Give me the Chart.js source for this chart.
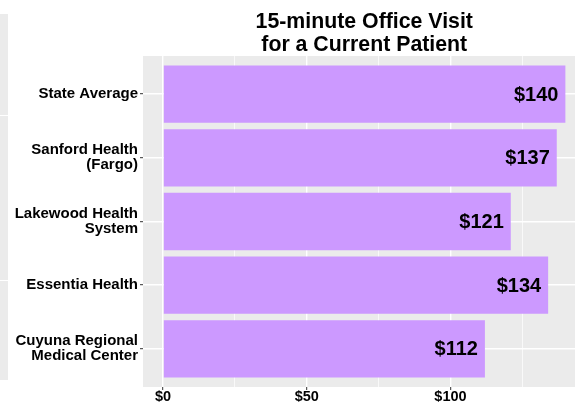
<!DOCTYPE html>
<html>
<head>
<meta charset="utf-8">
<script src="https://cdn.jsdelivr.net/npm/chart.js@4.4.1/dist/chart.umd.min.js"></script>
<style>
  html, body { margin: 0; padding: 0; background: #ffffff; overflow: hidden; }
  #wrap { position: relative; width: 575px; height: 402px; }
  #strip { position: absolute; left: 0; top: 14px; width: 8px; height: 366px; background: #ebebeb; }
  .sline { position: absolute; left: 0; width: 8px; height: 1px; background: #ffffff; }
  canvas { position: absolute; left: 0; top: 0; }
</style>
</head>
<body>
<div id="wrap">
  <div id="strip"><div class="sline" style="top:101px"></div><div class="sline" style="top:266px"></div></div>
  <canvas id="c" width="575" height="402"></canvas>
</div>
<script>
const titleLines = ['15-minute Office Visit', 'for a Current Patient'];
const categories = [
  ['State Average'],
  ['Sanford Health', '(Fargo)'],
  ['Lakewood Health', 'System'],
  ['Essentia Health'],
  ['Cuyuna Regional', 'Medical Center']
];
const values = [140, 137, 121, 134, 112];
const valueLabels = values.map(v => '$' + v);
const xTickValues = [0, 25, 50, 75, 100, 125];
const xTickLabels = { 0: '$0', 50: '$50', 100: '$100' };
const categoryPositions = [1, 2, 3, 4, 5];

const FONT = "'Liberation Sans', Arial, sans-serif";

const panelPlugin = {
  id: 'panel',
  beforeDraw(chart) {
    const { ctx, chartArea: a } = chart;
    ctx.save();
    ctx.fillStyle = '#ebebeb';
    ctx.fillRect(a.left, a.top, a.right - a.left, a.bottom - a.top);
    ctx.restore();
  },
  afterDatasetsDraw(chart) {
    const { ctx } = chart;
    const meta = chart.getDatasetMeta(0);
    ctx.save();
    ctx.fillStyle = '#000000';
    ctx.font = 'bold 20px ' + FONT;
    ctx.textAlign = 'right';
    ctx.textBaseline = 'middle';
    meta.data.forEach((bar, i) => {
      ctx.fillText(valueLabels[i], bar.x - 7, bar.y + 1);
    });
    ctx.restore();
  },
  afterDraw(chart) {
    const { ctx } = chart;
    const cx = chart.scales.x.getPixelForValue(70);
    ctx.save();
    ctx.fillStyle = '#000000';
    ctx.font = 'bold 21.3px ' + FONT;
    ctx.textAlign = 'center';
    ctx.textBaseline = 'alphabetic';
    ctx.fillText(titleLines[0], cx, 27.5);
    ctx.fillText(titleLines[1], cx, 51);
    ctx.restore();
  }
};

new Chart(document.getElementById('c'), {
  type: 'bar',
  data: {
    datasets: [{
      data: values.map((v, i) => ({ x: v, y: categoryPositions[i] })),
      backgroundColor: '#cc99ff',
      borderWidth: 0,
      categoryPercentage: 0.9,
      barPercentage: 1.0
    }]
  },
  options: {
    indexAxis: 'y',
    responsive: false,
    animation: false,
    devicePixelRatio: 1,
    layout: { padding: { top: 56, left: 0, right: 0, bottom: 0 } },
    plugins: { legend: { display: false }, tooltip: { enabled: false }, title: { display: false } },
    scales: {
      x: {
        type: 'linear',
        position: 'bottom',
        offset: false,
        min: -7,
        max: 143.35,
        afterBuildTicks(scale) { scale.ticks = xTickValues.map(v => ({ value: v })); },
        afterFit(scale) { scale.height = 15; scale.paddingLeft = 0; scale.paddingRight = 0; },
        border: { display: false },
        grid: {
          offset: false,
          color: '#ffffff',
          lineWidth: ctx => (ctx.tick && ctx.tick.value % 50 === 0) ? 1.4 : 0.7,
          drawTicks: true,
          tickLength: 3,
          tickColor: ctx => (ctx.tick && ctx.tick.value % 50 === 0) ? '#333333' : 'rgba(0,0,0,0)',
          tickWidth: 1
        },
        ticks: {
          autoSkip: false,
          maxRotation: 0,
          padding: 0,
          color: '#000000',
          font: { family: FONT, size: 14.5, weight: 'bold', lineHeight: 1 },
          callback: v => (xTickLabels[v] !== undefined ? xTickLabels[v] : '')
        }
      },
      y: {
        type: 'linear',
        position: 'left',
        offset: false,
        reverse: true,
        min: 0.4,
        max: 5.6,
        afterBuildTicks(scale) { scale.ticks = categoryPositions.map(v => ({ value: v })); },
        afterFit(scale) { scale.width = 143; scale.paddingTop = 0; scale.paddingBottom = 0; },
        border: { display: false },
        grid: {
          offset: false,
          color: '#ffffff',
          lineWidth: 1.4,
          drawTicks: true,
          tickLength: 3,
          tickColor: '#333333',
          tickWidth: 1
        },
        ticks: {
          autoSkip: false,
          padding: 2,
          color: '#000000',
          font: { family: FONT, size: 15, weight: 'bold', lineHeight: 1 },
          callback: v => categories[categoryPositions.indexOf(v)] || ''
        }
      }
    }
  },
  plugins: [panelPlugin]
});
</script>
</body>
</html>
